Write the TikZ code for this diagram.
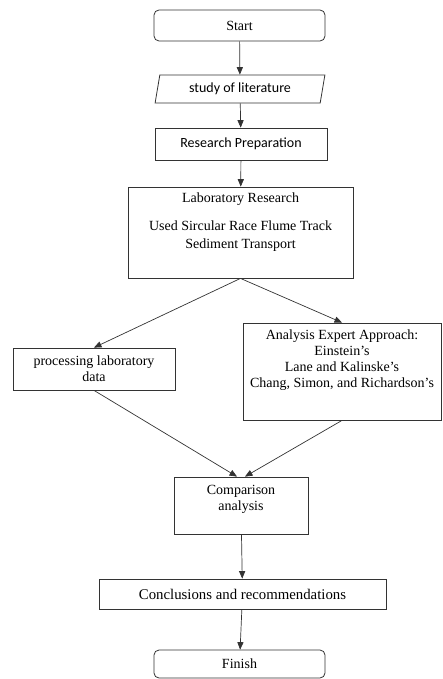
\documentclass[tikz,border=0pt]{standalone}
\usepackage{fontspec}
\setmainfont{Liberation Serif}
\newfontfamily\calibri{Carlito}
\usetikzlibrary{shapes,arrows}
\usetikzlibrary{positioning}

\tikzset{
    box/.style={draw=black!80, line width=0.8pt, inner sep=0pt, align=center, font=\fontsize{14}{16}\selectfont},
    roundbox/.style={box, rounded corners=5pt},
    databox/.style={box, trapezium, trapezium left angle=76, trapezium right angle=104, trapezium stretches=true},
    boxtext/.style={align=center, inner sep=0pt, font=\fontsize{14}{16}\selectfont},
    flow/.style={draw=black!80, line width=0.7pt, -triangle 45},
}

\begin{document}
\begin{tikzpicture}[x=1pt, y=-1pt]

    \useasboundingbox (0,0) rectangle (443,679);

    \node[roundbox, minimum width=171, minimum height=31] (start) at (239.5, 25.5) {Start};
    \node[databox, minimum width=170, minimum height=28] (study) at (240, 89) {\calibri study of literature};
    \node[box, minimum width=172, minimum height=32] (prep) at (241, 144) {\calibri Research Preparation};

    \node[box, minimum width=225, minimum height=91] (lab) at (240.5, 232.5) {};
    \node[boxtext, font=\fontsize{14}{18}\selectfont, below=6pt of lab.north] (labtext)
        {Laboratory Research\\[10pt]Used Sircular Race Flume Track\\Sediment Transport};

    \node[box, minimum width=162, minimum height=42] (proc) at (94, 369) {processing laboratory\\data};

    \node[box, minimum width=198, minimum height=97] (expert) at (342, 371.5) {};
    \node[boxtext, below=7pt of expert.north] (experttext)
        {Analysis Expert Approach:\\Einstein’s\\Lane and Kalinske’s\\Chang, Simon, and Richardson’s};

    \node[box, minimum width=134, minimum height=57] (comp) at (241, 505.5) {};
    \node[boxtext, below=8pt of comp.north] (comptext) {Comparison\\analysis};

    \node[box, font=\fontsize{14.8}{16}\selectfont, minimum width=287, minimum height=30] (concl) at (242.5, 594) {Conclusions and recommendations};
    \node[roundbox, minimum width=171, minimum height=28] (finish) at (239.5, 664) {Finish};

    % flow
    \draw[flow] (start) -- (study);
    \draw[flow] (study) -- (prep);
    \draw[flow] (prep) -- (lab);
    \draw[flow] (lab.south) -- (proc.north);
    \draw[flow] (lab.south) -- (expert.north);
    \draw[flow] (proc.south) -- ([xshift=-4pt]comp.north);
    \draw[flow] (expert.south) -- ([xshift=4pt]comp.north);
    \draw[flow] (comp) -- (concl);
    \draw[flow] (concl) -- (finish);

\end{tikzpicture}
\end{document}
